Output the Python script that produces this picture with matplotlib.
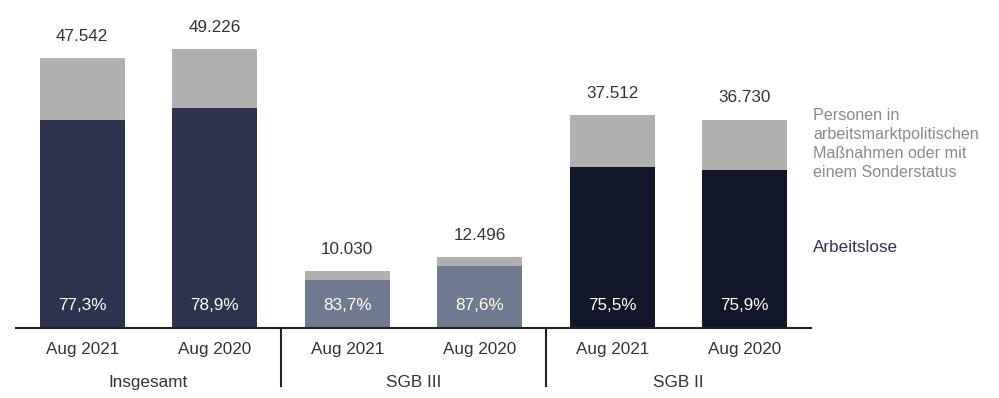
import matplotlib.pyplot as plt
import numpy as np

plt.rcParams["font.family"] = ["Liberation Sans", "DejaVu Sans"]

# Daten
gruppen = ["Insgesamt", "SGB III", "SGB II"]
monate = ["Aug 2021", "Aug 2020", "Aug 2021", "Aug 2020", "Aug 2021", "Aug 2020"]
gesamt = [47542, 49226, 10030, 12496, 37512, 36730]
anteil_al = [77.3, 78.9, 83.7, 87.6, 75.5, 75.9]

farben = ["#2e3450", "#2e3450", "#6f7a91", "#6f7a91", "#111629", "#111629"]
grau = "#b0b0b0"

x = np.arange(len(gesamt))
gesamt = np.array(gesamt)
arbeitslose = gesamt * np.array(anteil_al) / 100
rest = gesamt - arbeitslose

fs = 12.3
fig = plt.figure(figsize=(9.99, 3.98), dpi=100)
ax = fig.add_axes([16 / 999, 70 / 398, 795 / 999, 312 / 398])

ax.bar(x, arbeitslose, width=0.64, color=farben)
ax.bar(x, rest, width=0.64, bottom=arbeitslose, color=grau)

for i in range(len(x)):
    ax.text(x[i], gesamt[i] + 2500, f"{gesamt[i]:,}".replace(",", "."),
            ha="center", va="bottom", fontsize=fs, color="#333333")
    ax.text(x[i], 4000, f"{anteil_al[i]:.1f}%".replace(".", ","),
            ha="center", va="center", fontsize=fs, color="white")

ax.set_xlim(-0.5, 5.5)
ax.set_ylim(0, 55000)
ax.set_yticks([])
for s in ["top", "right", "left"]:
    ax.spines[s].set_visible(False)
ax.spines["bottom"].set_linewidth(1.5)
ax.spines["bottom"].set_color("#222222")

ax.set_xticks(x)
ax.set_xticklabels(monate, fontsize=fs, color="#333333")
ax.tick_params(axis="x", length=0, pad=10)

# Gruppenbeschriftung und Trennlinien
trans = ax.get_xaxis_transform()
for j, g in enumerate(gruppen):
    ax.text(2 * j + 0.5, -0.175, g, transform=trans, ha="center", va="center",
            fontsize=fs, color="#333333")
for sep in [1.5, 3.5]:
    ax.plot([sep, sep], [0, -0.185], transform=trans, color="#222222",
            lw=1.5, clip_on=False)

# Legende rechts
fig.text(813 / 999, 1 - 108 / 398,
         "Personen in\narbeitsmarktpolitischen\nMaßnahmen oder mit\neinem Sonderstatus",
         ha="left", va="top", fontsize=11.6, color="#8a8a8a", linespacing=1.32)
fig.text(813 / 999, 1 - 248 / 398, "Arbeitslose", ha="left", va="center",
         fontsize=fs, color="#2e3450")

plt.savefig("out.png", dpi=100)
plt.close()
